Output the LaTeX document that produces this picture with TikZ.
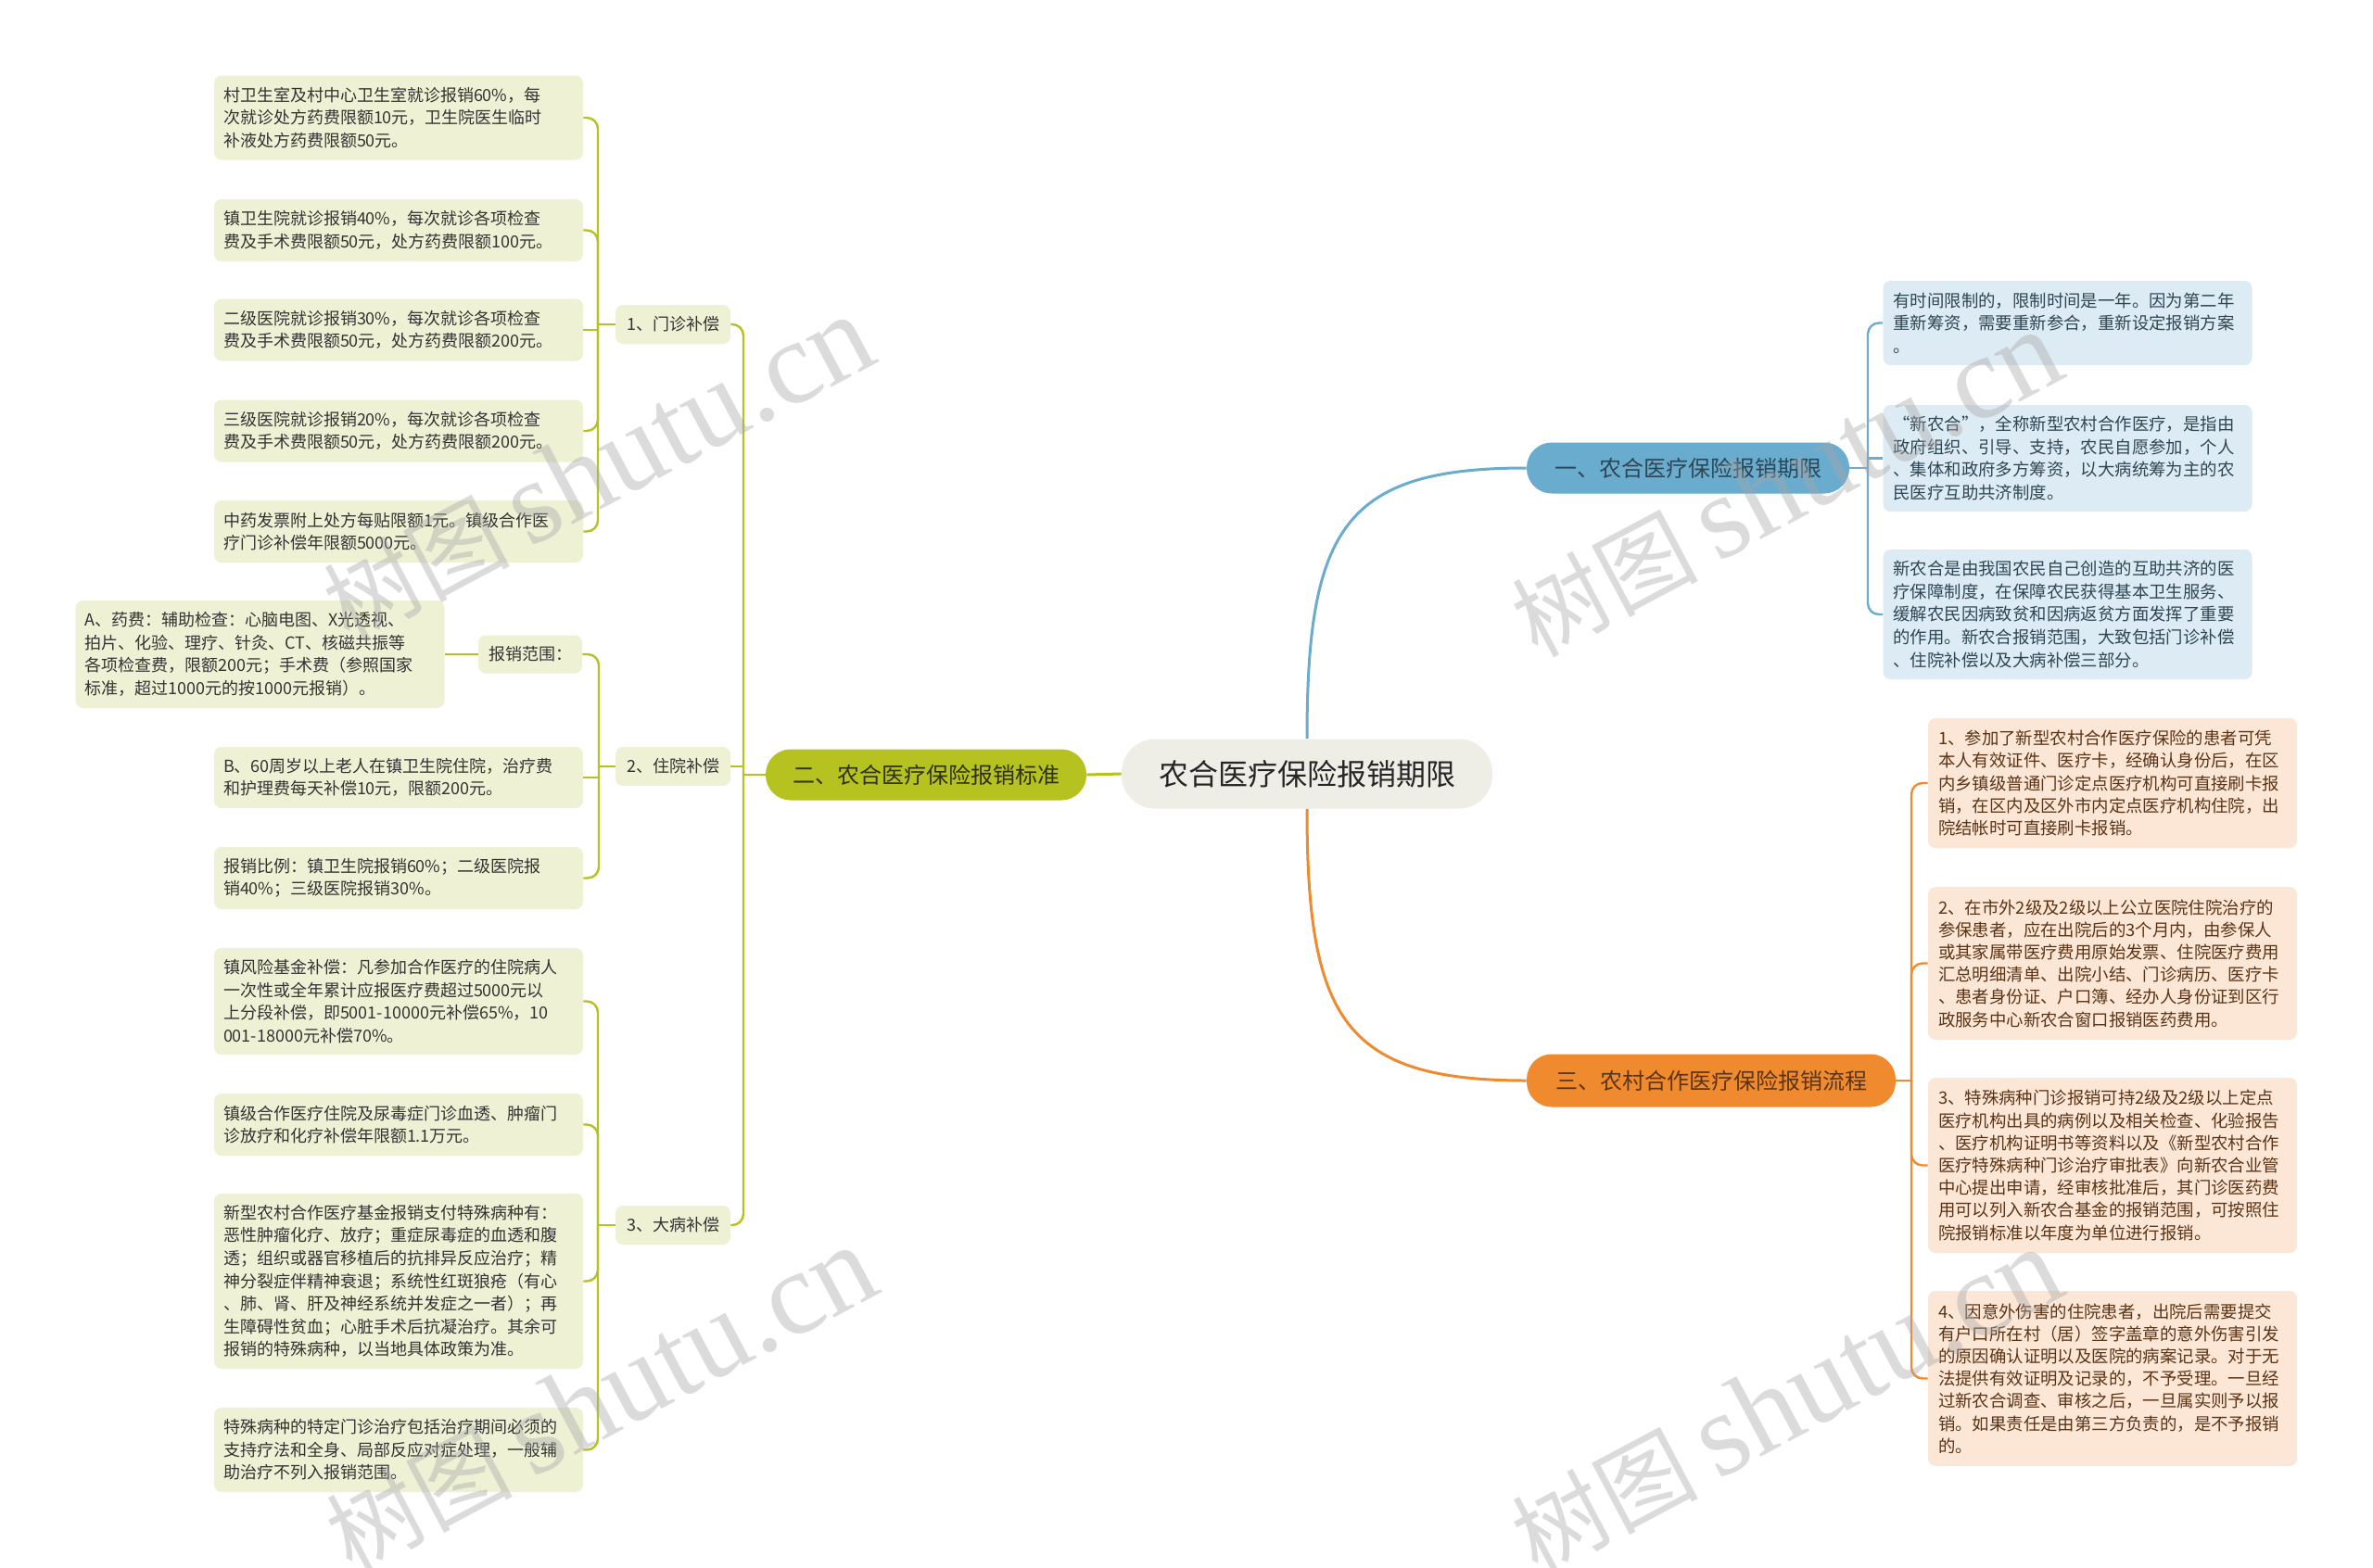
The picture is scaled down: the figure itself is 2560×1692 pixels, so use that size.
\documentclass[tikz,border=0pt]{standalone}
\usepackage{fontspec}
\setmainfont{Noto Sans CJK SC}
\newfontfamily\wmserif{Liberation Serif}
\definecolor{grn}{HTML}{B5C21F}
\definecolor{grnfill}{HTML}{EFF1D5}
\definecolor{grntext}{HTML}{2F3010}
\definecolor{blu}{HTML}{6AACCE}
\definecolor{blufill}{HTML}{DDEBF4}
\definecolor{blutext}{HTML}{2E4654}
\definecolor{org}{HTML}{F08A2E}
\definecolor{orgfill}{HTML}{FCE6D6}
\definecolor{orgtext}{HTML}{5A3415}
\definecolor{rootfill}{HTML}{EFEEE6}
\tikzset{
  leafG/.style={fill=grnfill, rounded corners=4pt, text width=189pt, inner xsep=5pt, inner ysep=0pt, align=left, font=\fontsize{9pt}{12.3pt}\selectfont, text=black!80},
  leafB/.style={fill=blufill, rounded corners=4pt, text width=188pt, inner xsep=5.5pt, inner ysep=0pt, align=left, font=\fontsize{9.2pt}{12.3pt}\selectfont, text=blutext},
  leafO/.style={fill=orgfill, rounded corners=4pt, text width=188pt, inner xsep=5.5pt, inner ysep=0pt, align=left, font=\fontsize{9.2pt}{12.1pt}\selectfont, text=orgtext},
  lvG/.style={fill=grnfill, rounded corners=4pt, minimum width=62pt, minimum height=21pt, inner sep=0pt, font=\fontsize{9pt}{11pt}\selectfont, text=black!80},
  branch/.style={rounded corners=13.5pt, inner sep=0pt, font=\fontsize{12pt}{14pt}\selectfont},
  gline/.style={draw=grn, line width=1.2pt, rounded corners=6pt},
  bline/.style={draw=blu, line width=1.2pt, rounded corners=6pt},
  oline/.style={draw=org, line width=1.2pt, rounded corners=6pt},
  wm/.style={text=gray!70, opacity=0.4, rotate=28, inner sep=0pt}
}
\begin{document}
\begin{tikzpicture}[x=0.5pt, y=-0.5pt]
\useasboundingbox (0,0) rectangle (2560,1692);
\fill[white] (0,0) rectangle (2560,1692);

% root
\node[fill=rootfill, rounded corners=18pt, minimum width=200pt, minimum height=37.5pt, inner sep=0pt, font=\fontsize{16pt}{18pt}\selectfont, text=black!85] (root) at (1410,835) {农合医疗保险报销期限};

% main branches
\node[branch, fill=blu, text=blutext, minimum width=174pt, minimum height=27.5pt] (b1) at (1821,505) {一、农合医疗保险报销期限};
\node[branch, fill=grn, text=grntext, minimum width=173pt, minimum height=27.5pt] (b2) at (999,836) {二、农合医疗保险报销标准};
\node[branch, fill=org, text=orgtext, minimum width=199pt, minimum height=28.5pt] (b3) at (1846,1166) {三、农村合作医疗保险报销流程};

\draw[draw=blu, line width=1.5pt] (root.north) .. controls (1410,570) and (1450,505) .. (b1.west);
\draw[draw=org, line width=1.5pt] (root.south) .. controls (1410,1100) and (1450,1166) .. (b3.west);
\draw[draw=grn, line width=1.5pt] (root.west) -- (b2.east);

% green level 2
\node[lvG] (g1) at (726,350) {1、门诊补偿};
\node[lvG] (g2) at (726,827) {2、住院补偿};
\node[lvG] (g3) at (726,1322) {3、大病补偿};
\node[lvG, minimum width=56pt, minimum height=20.5pt] (g2a) at (572,706) {报销范围：};

\coordinate (jg) at (802,836);
\draw[gline] (b2.west) -- (jg);
\draw[gline] (jg) |- (g1.east);
\draw[gline] (jg) |- (g3.east);
\draw[gline] (jg |- g2.east) -- (g2.east);

% green leaves
\node[leafG, minimum height=45.5pt] (l1) at (430,127) {村卫生室及村中心卫生室就诊报销60\%，每\\次就诊处方药费限额10元，卫生院医生临时\\补液处方药费限额50元。};
\node[leafG, minimum height=33.5pt] (l2) at (430,248.5) {镇卫生院就诊报销40\%，每次就诊各项检查\\费及手术费限额50元，处方药费限额100元。};
\node[leafG, minimum height=33.5pt] (l3) at (430,356) {二级医院就诊报销30\%，每次就诊各项检查\\费及手术费限额50元，处方药费限额200元。};
\node[leafG, minimum height=33.5pt] (l4) at (430,465) {三级医院就诊报销20\%，每次就诊各项检查\\费及手术费限额50元，处方药费限额200元。};
\node[leafG, minimum height=33.5pt] (l5) at (430,573.5) {中药发票附上处方每贴限额1元。镇级合作医\\疗门诊补偿年限额5000元。};

\node[leafG, minimum height=58pt] (la) at (280.5,706) {A、药费：辅助检查：心脑电图、X光透视、\\拍片、化验、理疗、针灸、CT、核磁共振等\\各项检查费，限额200元；手术费（参照国家\\标准，超过1000元的按1000元报销）。};
\node[leafG, minimum height=33pt] (lb) at (430,839) {B、60周岁以上老人在镇卫生院住院，治疗费\\和护理费每天补偿10元，限额200元。};
\node[leafG, minimum height=33.5pt] (lc) at (430,947.5) {报销比例：镇卫生院报销60\%；二级医院报\\销40\%；三级医院报销30\%。};

\node[leafG, minimum height=57.5pt] (d1) at (430,1080.5) {镇风险基金补偿：凡参加合作医疗的住院病人\\一次性或全年累计应报医疗费超过5000元以\\上分段补偿，即5001-10000元补偿65\%，10\\001-18000元补偿70\%。};
\node[leafG, minimum height=33.5pt] (d2) at (430,1213.5) {镇级合作医疗住院及尿毒症门诊血透、肿瘤门\\诊放疗和化疗补偿年限额1.1万元。};
\node[leafG, minimum height=94.5pt] (d3) at (430,1382.5) {新型农村合作医疗基金报销支付特殊病种有：\\恶性肿瘤化疗、放疗；重症尿毒症的血透和腹\\透；组织或器官移植后的抗排异反应治疗；精\\神分裂症伴精神衰退；系统性红斑狼疮（有心\\、肺、肾、肝及神经系统并发症之一者）；再\\生障碍性贫血；心脏手术后抗凝治疗。其余可\\报销的特殊病种，以当地具体政策为准。};
\node[leafG, minimum height=45.5pt] (d4) at (430,1564.5) {特殊病种的特定门诊治疗包括治疗期间必须的\\支持疗法和全身、局部反应对症处理，一般辅\\助治疗不列入报销范围。};

\coordinate (j1) at (645,350);
\draw[gline] (g1.west) -- (j1);
\foreach \n in {l1,l2,l4,l5} \draw[gline] (j1) |- (\n.east);
\draw[gline] (j1 |- l3.east) -- (l3.east);

\coordinate (j2) at (646,827);
\draw[gline] (g2.west) -- (j2);
\foreach \n in {g2a,lc} \draw[gline] (j2) |- (\n.east);
\draw[gline] (j2 |- lb.east) -- (lb.east);

\coordinate (j3) at (645,1322);
\draw[gline] (g3.west) -- (j3);
\foreach \n in {d1,d2,d3,d4} \draw[gline] (j3) |- (\n.east);
\draw[gline] (g2a.west) -- (la.east);

% blue leaves
\node[leafB, minimum height=45.5pt] (bl1) at (2230.5,348.5) {有时间限制的，限制时间是一年。因为第二年\\重新筹资，需要重新参合，重新设定报销方案\\。};
\node[leafB, minimum height=57.5pt] (bl2) at (2230.5,494.5) {“新农合”，全称新型农村合作医疗，是指由\\政府组织、引导、支持，农民自愿参加，个人\\、集体和政府多方筹资，以大病统筹为主的农\\民医疗互助共济制度。};
\node[leafB, minimum height=70pt] (bl3) at (2230.5,663) {新农合是由我国农民自己创造的互助共济的医\\疗保障制度，在保障农民获得基本卫生服务、\\缓解农民因病致贫和因病返贫方面发挥了重要\\的作用。新农合报销范围，大致包括门诊补偿\\、住院补偿以及大病补偿三部分。};
\coordinate (jb) at (2015,505);
\draw[bline] (b1.east) -- (jb);
\foreach \n in {bl1,bl3} \draw[bline] (jb) |- (\n.west);
\draw[bline] (jb |- bl2.west) -- (bl2.west);

% orange leaves
\node[leafO, minimum height=70pt] (o1) at (2279,845) {1、参加了新型农村合作医疗保险的患者可凭\\本人有效证件、医疗卡，经确认身份后，在区\\内乡镇级普通门诊定点医疗机构可直接刷卡报\\销，在区内及区外市内定点医疗机构住院，出\\院结帐时可直接刷卡报销。};
\node[leafO, minimum height=82.5pt] (o2) at (2279,1039.5) {2、在市外2级及2级以上公立医院住院治疗的\\参保患者，应在出院后的3个月内，由参保人\\或其家属带医疗费用原始发票、住院医疗费用\\汇总明细清单、出院小结、门诊病历、医疗卡\\、患者身份证、户口簿、经办人身份证到区行\\政服务中心新农合窗口报销医药费用。};
\node[leafO, minimum height=94.5pt] (o3) at (2279,1257.5) {3、特殊病种门诊报销可持2级及2级以上定点\\医疗机构出具的病例以及相关检查、化验报告\\、医疗机构证明书等资料以及《新型农村合作\\医疗特殊病种门诊治疗审批表》向新农合业管\\中心提出申请，经审核批准后，其门诊医药费\\用可以列入新农合基金的报销范围，可按照住\\院报销标准以年度为单位进行报销。};
\node[leafO, minimum height=94.5pt] (o4) at (2279,1487.5) {4、因意外伤害的住院患者，出院后需要提交\\有户口所在村（居）签字盖章的意外伤害引发\\的原因确认证明以及医院的病案记录。对于无\\法提供有效证明及记录的，不予受理。一旦经\\过新农合调查、审核之后，一旦属实则予以报\\销。如果责任是由第三方负责的，是不予报销\\的。};
\coordinate (jo) at (2062,1166);
\draw[oline] (b3.east) -- (jo);
\foreach \n in {o1,o2,o3,o4} \draw[oline] (jo) |- (\n.west);

% watermarks
\begin{scope}
\clip (0,0) rectangle (2560,1692);
\foreach \p/\q in {645/506, 648/1510, 1927/522, 1927/1512}
  \node[wm] (w\p\q) at (\p,\q) {\fontsize{50pt}{55pt}\selectfont 树图\hspace{10pt}{\wmserif\fontsize{64pt}{70pt}\selectfont shutu.cn}};
\end{scope}
\end{tikzpicture}
\end{document}
